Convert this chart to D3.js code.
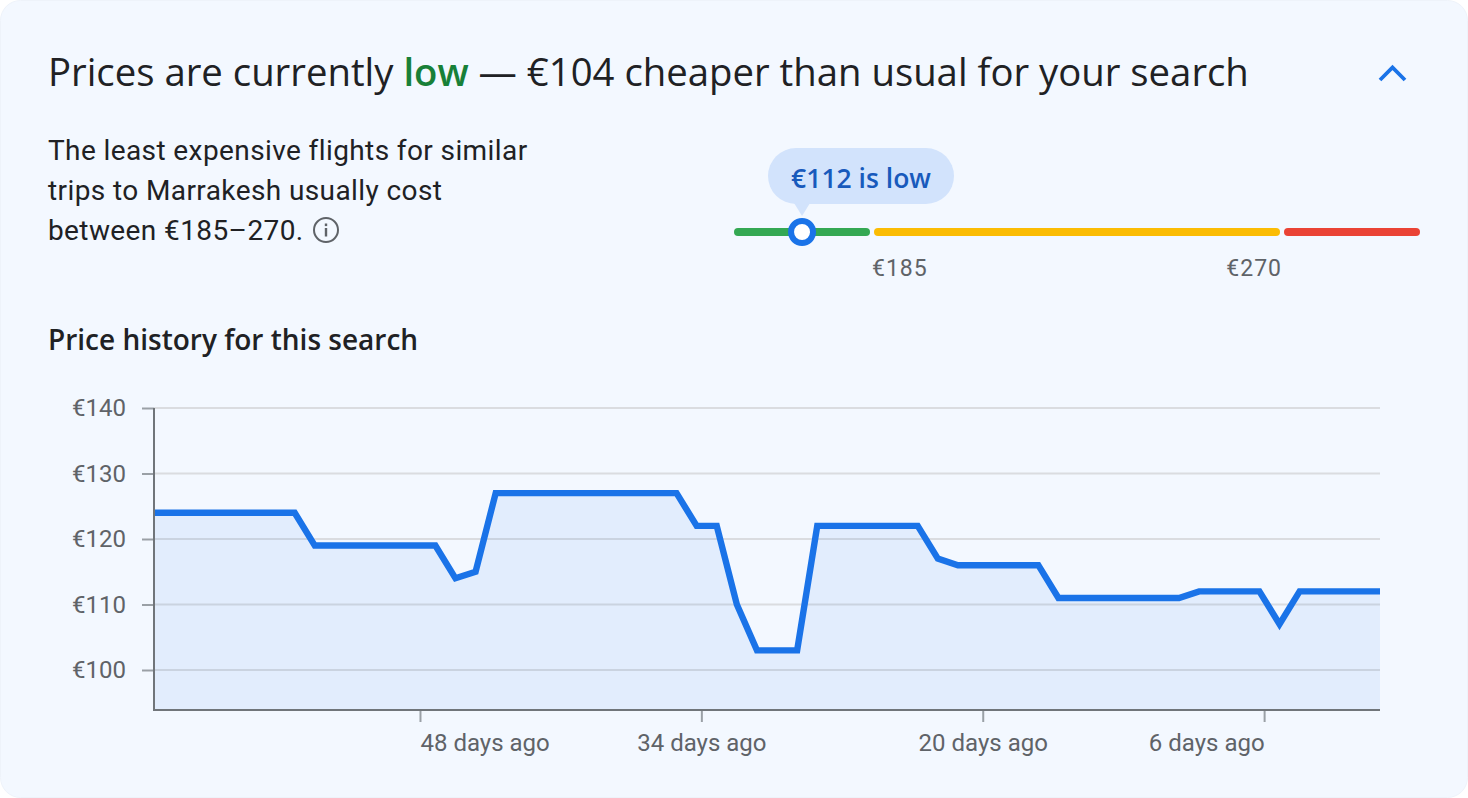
<!DOCTYPE html>
<html>
<head>
<meta charset="utf-8">
<script src="https://cdn.jsdelivr.net/npm/d3@7/dist/d3.min.js"></script>
<style>
html, body { margin: 0; padding: 0; background: #fff; overflow: hidden; }
svg { display: block; }
text { font-family: Roboto, sans-serif; }
.head { font-family: "Open Sans", sans-serif; }
</style>
</head>
<body>
<div id="chart"></div>
<script>
// price history, one value per day, oldest first
const daysAgo = [61,60,59,58,57,56,55,54,53,52,51,50,49,48,47,46,45,44,43,42,41,40,39,38,37,36,35,34,33,32,31,30,29,28,27,26,25,24,23,22,21,20,19,18,17,16,15,14,13,12,11,10,9,8,7,6,5,4,3,2,1,0];
const prices = [124,124,124,124,124,124,124,124,119,119,119,119,119,119,119,114,115,127,127,127,127,127,127,127,127,127,127,122,122,110,103,103,103,122,122,122,122,122,122,117,116,116,116,116,116,111,111,111,111,111,111,111,112,112,112,112,107,112,112,112,112,112];
const priceTicks = [100,110,120,130,140];
const dayTicks = [48,34,20,6];
const dayAnchors = ['start','middle','middle','end'];

// range bar
const rangeBreaks = [41,185,270,355];
const rangeColors = ['#34a853','#fbbc04','#ea4335'];
const currentPrice = 112;

const width = 1468, height = 798;
const svg = d3.select('#chart').append('svg').attr('width', width).attr('height', height);

// card
svg.append('rect').attr('x', 0.5).attr('y', 0.5).attr('width', width - 1).attr('height', height - 1)
    .attr('rx', 20).attr('fill', '#f3f8ff').attr('stroke', '#eef3fa');

// header
const title = svg.append('text').attr('class', 'head').attr('x', 48).attr('y', 86)
    .attr('font-size', 38.3).attr('fill', '#202124');
title.append('tspan').text('Prices are currently ');
title.append('tspan').attr('fill', '#188038').attr('font-weight', 600).text('low');
title.append('tspan').text(' — €104 cheaper than usual for your search');

svg.append('path').attr('d', 'M1380 80 L1392.5 67.5 L1405 80').attr('fill', 'none')
    .attr('stroke', '#1a73e8').attr('stroke-width', 3.8);

// description
const desc = ['The least expensive flights for similar', 'trips to Marrakesh usually cost', 'between €185–270.'];
svg.selectAll('text.desc').data(desc).enter().append('text').attr('class', 'desc')
    .attr('x', 48).attr('y', (d, i) => 159.5 + i * 40).attr('font-size', 28)
    .attr('letter-spacing', 0.4).attr('fill', '#202124').text(d => d);

// info icon
const info = svg.append('g').attr('transform', 'translate(326,230)');
info.append('circle').attr('r', 12).attr('fill', 'none').attr('stroke', '#5f6368').attr('stroke-width', 2);
info.append('rect').attr('x', -1.2).attr('y', -2).attr('width', 2.4).attr('height', 8.5).attr('fill', '#5f6368');
info.append('rect').attr('x', -1.2).attr('y', -6.5).attr('width', 2.4).attr('height', 2.6).attr('fill', '#5f6368');

// range bar
const rangeX = d3.scaleLinear().domain(rangeBreaks).range([734, 872, 1282, 1420]);
const barY = 232;
d3.pairs(rangeBreaks).forEach((p, i) => {
    const x0 = rangeX(p[0]) + (i > 0 ? 2 : 0);
    const x1 = rangeX(p[1]) - (i < 2 ? 2 : 0);
    svg.append('rect').attr('x', x0).attr('y', barY - 4).attr('width', x1 - x0).attr('height', 8)
        .attr('rx', 4).attr('fill', rangeColors[i]);
});

// bubble
const mx = rangeX(currentPrice);
svg.append('rect').attr('x', 768).attr('y', 148).attr('width', 186).attr('height', 56)
    .attr('rx', 28).attr('fill', '#d2e3fc');
svg.append('path').attr('d', `M${mx - 8} 203 L${mx} 216 L${mx + 8} 203 Z`).attr('fill', '#d2e3fc');
svg.append('text').attr('class', 'head').attr('x', 861).attr('y', 188).attr('text-anchor', 'middle')
    .attr('font-size', 26.5).attr('font-weight', 600).attr('fill', '#185abc').text('€112 is low');
svg.append('circle').attr('cx', mx).attr('cy', barY).attr('r', 11)
    .attr('fill', '#fff').attr('stroke', '#1a73e8').attr('stroke-width', 6);

svg.append('text').attr('x', rangeX(185)).attr('y', 276).attr('font-size', 23).attr('letter-spacing', 1)
    .attr('fill', '#5f6368').text('€185');
svg.append('text').attr('x', rangeX(270)).attr('y', 276).attr('font-size', 23).attr('letter-spacing', 1)
    .attr('text-anchor', 'end').attr('fill', '#5f6368').text('€270');

// chart
svg.append('text').attr('class', 'head').attr('x', 48).attr('y', 350).attr('font-size', 28)
    .attr('font-weight', 600).attr('fill', '#202124').text('Price history for this search');

const left = 154, right = 1380, bottom = 710;
const x = d3.scaleLinear().domain([61, 0]).range([left, right]);
const y = d3.scaleLinear().domain([140, 100]).range([408, 670]);

// gridlines and price labels
const yAxis = d3.axisLeft(y).tickValues(priceTicks).tickFormat(d => '€' + d).tickSize(12).tickPadding(16);
const yG = svg.append('g').attr('transform', `translate(${left},0)`).call(yAxis);
yG.select('.domain').remove();
yG.selectAll('.tick line').attr('stroke', '#9aa0a6').attr('stroke-width', 2);
yG.selectAll('.tick text').attr('font-size', 24).attr('font-family', 'Roboto, sans-serif').attr('fill', '#5f6368');
svg.selectAll('line.grid').data(priceTicks).enter().append('line').attr('class', 'grid')
    .attr('x1', left).attr('x2', right).attr('y1', d => y(d)).attr('y2', d => y(d))
    .attr('stroke', '#dadce0').attr('stroke-width', 2);

// area and line
const area = d3.area().x((d, i) => x(daysAgo[i])).y0(bottom).y1(d => y(d));
const line = d3.line().x((d, i) => x(daysAgo[i])).y(d => y(d));
svg.append('path').datum(prices).attr('d', area).attr('fill', '#1a73e8').attr('fill-opacity', 0.08);
svg.append('path').datum(prices).attr('d', line).attr('fill', 'none')
    .attr('stroke', '#1a73e8').attr('stroke-width', 6.4).attr('stroke-linejoin', 'miter');

// x axis, the ticks sit about a quarter day right of the data points
const xTick = d3.scaleLinear().domain([61, 0]).range([left + 4.7, right + 4.7]);
const xAxis = d3.axisBottom(xTick).tickValues(dayTicks).tickFormat(d => d + ' days ago').tickSize(12).tickPadding(12);
const xG = svg.append('g').attr('transform', `translate(0,${bottom})`).call(xAxis);
xG.select('.domain').remove();
xG.selectAll('.tick line').attr('stroke', '#9aa0a6').attr('stroke-width', 2);
xG.selectAll('.tick text').attr('font-size', 24).attr('font-family', 'Roboto, sans-serif').attr('fill', '#5f6368')
    .attr('text-anchor', (d, i) => dayAnchors[i]);

// axis lines
svg.append('path').attr('d', `M${left} 408 V${bottom} H${right}`).attr('fill', 'none')
    .attr('stroke', '#70757a').attr('stroke-width', 2);
</script>
</body>
</html>
